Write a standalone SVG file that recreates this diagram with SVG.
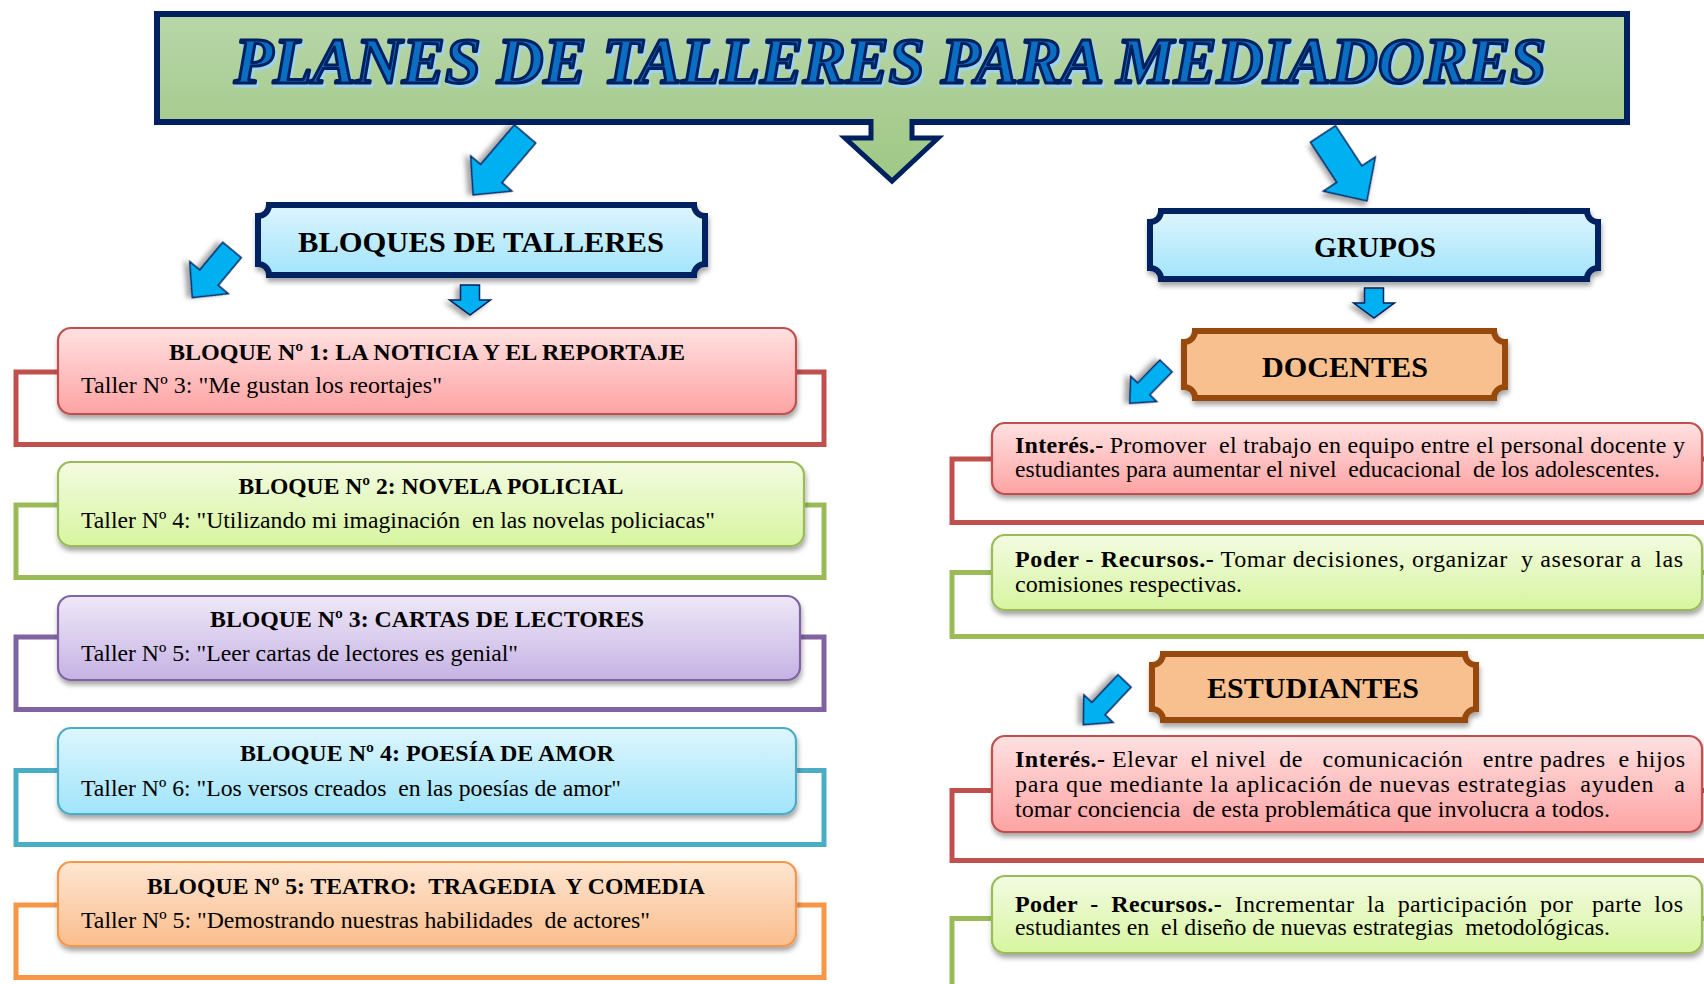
<svg xmlns="http://www.w3.org/2000/svg" width="1704" height="984" viewBox="0 0 1704 984">
<defs>
<style>
.t{font-family:"Liberation Serif","Times New Roman",serif;fill:#000}
.h{font-size:30px;font-weight:bold;text-anchor:middle}
.bt{font-size:23.5px;font-weight:bold;text-anchor:middle}
.bs{font-size:23.5px}
.body{font-size:24px}
.b{font-weight:bold}
.ar{fill:#00b0f0;stroke:#002060;stroke-width:1.5;stroke-linejoin:miter;filter:url(#ash)}
.ol{fill:none;stroke-width:5}
.rb{stroke-width:2.2}
</style>
<linearGradient id="gTitle" x1="0" y1="0" x2="0" y2="1"><stop offset="0" stop-color="#b8d7a9"/><stop offset="1" stop-color="#a7cb8f"/></linearGradient>
<linearGradient id="gArrow" x1="0" y1="0" x2="0" y2="1"><stop offset="0" stop-color="#a8cc90"/><stop offset="1" stop-color="#9fc886"/></linearGradient>
<linearGradient id="gBlue" x1="0" y1="0" x2="0" y2="1"><stop offset="0" stop-color="#ddf5fe"/><stop offset="1" stop-color="#a2e4fb"/></linearGradient>
<linearGradient id="gRed" x1="0" y1="0" x2="0" y2="1"><stop offset="0" stop-color="#ffe1e1"/><stop offset="1" stop-color="#fea3a3"/></linearGradient>
<linearGradient id="gGreen" x1="0" y1="0" x2="0" y2="1"><stop offset="0" stop-color="#f3fbe1"/><stop offset="1" stop-color="#d7f5a0"/></linearGradient>
<linearGradient id="gPurple" x1="0" y1="0" x2="0" y2="1"><stop offset="0" stop-color="#eee8f7"/><stop offset="1" stop-color="#c6b2e4"/></linearGradient>
<linearGradient id="gCyan" x1="0" y1="0" x2="0" y2="1"><stop offset="0" stop-color="#ddf6fd"/><stop offset="1" stop-color="#a0e4fb"/></linearGradient>
<linearGradient id="gOrange" x1="0" y1="0" x2="0" y2="1"><stop offset="0" stop-color="#fee6d2"/><stop offset="1" stop-color="#fbbd8d"/></linearGradient>
<filter id="sh" x="-5%" y="-20%" width="110%" height="150%"><feDropShadow dx="1" dy="4" stdDeviation="2.5" flood-color="#000" flood-opacity="0.35"/></filter>
<filter id="ash" x="-30%" y="-30%" width="170%" height="170%"><feDropShadow dx="3" dy="4" stdDeviation="2.5" flood-color="#000" flood-opacity="0.35"/></filter>
</defs>
<rect width="1704" height="984" fill="#fff"/>

<g id="title">
<rect x="157" y="14" width="1470" height="108" fill="url(#gTitle)" stroke="#002060" stroke-width="6"/>
<path d="M871,119 V138 H845 L892,181 L938,138 H912 V119" fill="url(#gArrow)" stroke="#002060" stroke-width="5" stroke-linejoin="miter"/>
<text x="892" y="86" font-family="Liberation Serif,Times New Roman,serif" font-size="65" font-weight="bold" font-style="italic" text-anchor="middle" textLength="1312" lengthAdjust="spacingAndGlyphs" fill="#9fd3f0" stroke="#9fd3f0" stroke-width="3">PLANES DE TALLERES PARA MEDIADORES</text>
<text x="890" y="83" font-family="Liberation Serif,Times New Roman,serif" font-size="65" font-weight="bold" font-style="italic" text-anchor="middle" textLength="1312" lengthAdjust="spacingAndGlyphs" fill="#0a6fc2" stroke="#002060" stroke-width="3" stroke-linejoin="round">PLANES DE TALLERES PARA MEDIADORES</text>
</g>

<g id="connectors">
<polygon class="ar" transform="translate(525,134) rotate(130.45)" points="0,-14 52,-14 52,-27 80,0 52,27 52,14 0,14"/>
<polygon class="ar" transform="translate(1323,134) rotate(56.7)" points="0,-15 48,-15 48,-31 80,0 48,31 48,15 0,15"/>
<polygon class="ar" transform="translate(232,250) rotate(129.8)" points="0,-12 36,-12 36,-25 62,0 36,25 36,12 0,12"/>
<polygon class="ar" transform="translate(470,285) rotate(90)" points="0,-9.5 15,-9.5 15,-20.5 30,0 15,20.5 15,9.5 0,9.5"/>
<polygon class="ar" transform="translate(1374,288) rotate(90)" points="0,-9.5 15,-9.5 15,-20.5 30,0 15,20.5 15,9.5 0,9.5"/>
<polygon class="ar" transform="translate(1166,366) rotate(134.2)" points="0,-8.5 32,-8.5 32,-18 52,0 32,18 32,8.5 0,8.5"/>
<polygon class="ar" transform="translate(1124.5,681) rotate(133.3)" points="0,-9 38,-9 38,-20 60,0 38,20 38,9 0,9"/>
</g>

<g id="bloques">
<path d="M269,205 H694 A11,11 0 0 0 705,216 V264 A11,11 0 0 0 694,275 H269 A11,11 0 0 0 258,264 V216 A11,11 0 0 0 269,205 Z" fill="url(#gBlue)" stroke="#002060" stroke-width="6" filter="url(#sh)"/>
<text class="t h" x="481" y="252" textLength="366" lengthAdjust="spacingAndGlyphs">BLOQUES DE TALLERES</text>
</g>

<g id="grupos">
<path d="M1161,211 H1587 A11,11 0 0 0 1598,222 V268 A11,11 0 0 0 1587,279 H1161 A11,11 0 0 0 1150,268 V222 A11,11 0 0 0 1161,211 Z" fill="url(#gBlue)" stroke="#002060" stroke-width="6" filter="url(#sh)"/>
<text class="t h" x="1375" y="257" textLength="122" lengthAdjust="spacingAndGlyphs">GRUPOS</text>
</g>

<g id="bloque1">
<rect class="ol" x="16" y="372" width="808" height="72.5" stroke="#c0504d"/>
<rect class="rb" x="58" y="328" width="738" height="86" rx="13" fill="url(#gRed)" stroke="#c0504d" filter="url(#sh)"/>
<text class="t bt" x="427" y="360" textLength="516" lengthAdjust="spacingAndGlyphs">BLOQUE Nº 1: LA NOTICIA Y EL REPORTAJE</text>
<text class="t bs" x="81" y="393" textLength="361" lengthAdjust="spacingAndGlyphs">Taller Nº 3: "Me gustan los reortajes"</text>
</g>

<g id="bloque2">
<rect class="ol" x="16" y="505" width="808" height="72.5" stroke="#9bbb59"/>
<rect class="rb" x="58" y="462" width="746" height="84" rx="13" fill="url(#gGreen)" stroke="#9bbb59" filter="url(#sh)"/>
<text class="t bt" x="431" y="494" textLength="385" lengthAdjust="spacingAndGlyphs">BLOQUE Nº 2: NOVELA POLICIAL</text>
<text class="t bs" x="81" y="528" textLength="634" lengthAdjust="spacingAndGlyphs" xml:space="preserve">Taller Nº 4: "Utilizando mi imaginación  en las novelas policiacas"</text>
</g>

<g id="bloque3">
<rect class="ol" x="16" y="637" width="808" height="72.5" stroke="#8064a2"/>
<rect class="rb" x="58" y="596" width="742" height="84" rx="13" fill="url(#gPurple)" stroke="#8064a2" filter="url(#sh)"/>
<text class="t bt" x="427" y="627" textLength="434" lengthAdjust="spacingAndGlyphs">BLOQUE Nº 3: CARTAS DE LECTORES</text>
<text class="t bs" x="81" y="661" textLength="437" lengthAdjust="spacingAndGlyphs">Taller Nº 5: "Leer cartas de lectores es genial"</text>
</g>

<g id="bloque4">
<rect class="ol" x="16" y="770.5" width="808" height="74" stroke="#4bacc6"/>
<rect class="rb" x="58" y="728" width="738" height="86" rx="13" fill="url(#gCyan)" stroke="#4bacc6" filter="url(#sh)"/>
<text class="t bt" x="427" y="761" textLength="374" lengthAdjust="spacingAndGlyphs">BLOQUE Nº 4: POESÍA DE AMOR</text>
<text class="t bs" x="81" y="796" textLength="540" lengthAdjust="spacingAndGlyphs" xml:space="preserve">Taller Nº 6: "Los versos creados  en las poesías de amor"</text>
</g>

<g id="bloque5">
<rect class="ol" x="16" y="905" width="808" height="72.5" stroke="#f79646"/>
<rect class="rb" x="58" y="862" width="738" height="84" rx="13" fill="url(#gOrange)" stroke="#f79646" filter="url(#sh)"/>
<text class="t bt" x="426" y="894" textLength="558" lengthAdjust="spacingAndGlyphs" xml:space="preserve">BLOQUE Nº 5: TEATRO:  TRAGEDIA  Y COMEDIA</text>
<text class="t bs" x="81" y="928" textLength="569" lengthAdjust="spacingAndGlyphs" xml:space="preserve">Taller Nº 5: "Demostrando nuestras habilidades  de actores"</text>
</g>

<g id="docentes">
<path d="M1195,331 H1494 A11,11 0 0 0 1505,342 V387 A11,11 0 0 0 1494,398 H1195 A11,11 0 0 0 1184,387 V342 A11,11 0 0 0 1195,331 Z" fill="#f9c08f" stroke="#984807" stroke-width="6" filter="url(#sh)"/>
<text class="t h" x="1345" y="377" textLength="166" lengthAdjust="spacingAndGlyphs">DOCENTES</text>
</g>

<g id="docentes-interes">
<rect class="ol" x="952" y="459" width="780" height="63.5" stroke="#c0504d"/>
<rect class="rb" x="992" y="423" width="710" height="71" rx="13" fill="url(#gRed)" stroke="#c0504d" filter="url(#sh)"/>
<text class="t body" x="1015" y="453" textLength="670" lengthAdjust="spacing" xml:space="preserve"><tspan class="b">Interés.-</tspan> Promover  el trabajo en equipo entre el personal docente y</text>
<text class="t body" x="1015" y="477" textLength="645" lengthAdjust="spacingAndGlyphs" xml:space="preserve">estudiantes para aumentar el nivel  educacional  de los adolescentes.</text>
</g>

<g id="docentes-poder">
<rect class="ol" x="952" y="572.5" width="780" height="64" stroke="#9bbb59"/>
<rect class="rb" x="992" y="535" width="710" height="75" rx="13" fill="url(#gGreen)" stroke="#9bbb59" filter="url(#sh)"/>
<text class="t body" x="1015" y="567" textLength="668" lengthAdjust="spacing" xml:space="preserve"><tspan class="b">Poder - Recursos.-</tspan> Tomar decisiones, organizar  y asesorar a  las</text>
<text class="t body" x="1015" y="592" textLength="227" lengthAdjust="spacingAndGlyphs">comisiones respectivas.</text>
</g>

<g id="estudiantes">
<path d="M1163,654 H1465 A11,11 0 0 0 1476,665 V709 A11,11 0 0 0 1465,720 H1163 A11,11 0 0 0 1152,709 V665 A11,11 0 0 0 1163,654 Z" fill="#f9c08f" stroke="#984807" stroke-width="6" filter="url(#sh)"/>
<text class="t h" x="1313" y="698" textLength="212" lengthAdjust="spacingAndGlyphs">ESTUDIANTES</text>
</g>

<g id="estudiantes-interes">
<rect class="ol" x="952" y="790.5" width="780" height="70" stroke="#c0504d"/>
<rect class="rb" x="992" y="736" width="710" height="96" rx="13" fill="url(#gRed)" stroke="#c0504d" filter="url(#sh)"/>
<text class="t body" x="1015" y="767" textLength="670" lengthAdjust="spacing" xml:space="preserve"><tspan class="b">Interés.-</tspan> Elevar  el nivel  de   comunicación   entre padres  e hijos</text>
<text class="t body" x="1015" y="792" textLength="670" lengthAdjust="spacing" xml:space="preserve">para que mediante la aplicación de nuevas estrategias  ayuden   a</text>
<text class="t body" x="1015" y="817" textLength="595" lengthAdjust="spacingAndGlyphs" xml:space="preserve">tomar conciencia  de esta problemática que involucra a todos.</text>
</g>

<g id="estudiantes-poder">
<path class="ol" d="M1720,918.5 H952 V990" stroke="#9bbb59"/>
<rect class="rb" x="992" y="876" width="710" height="77" rx="13" fill="url(#gGreen)" stroke="#9bbb59" filter="url(#sh)"/>
<text class="t body" x="1015" y="912" textLength="668" lengthAdjust="spacing" xml:space="preserve"><tspan class="b">Poder  -  Recursos.-</tspan>  Incrementar  la  participación  por   parte  los</text>
<text class="t body" x="1015" y="935" textLength="595" lengthAdjust="spacingAndGlyphs" xml:space="preserve">estudiantes en  el diseño de nuevas estrategias  metodológicas.</text>
</g>
</svg>
